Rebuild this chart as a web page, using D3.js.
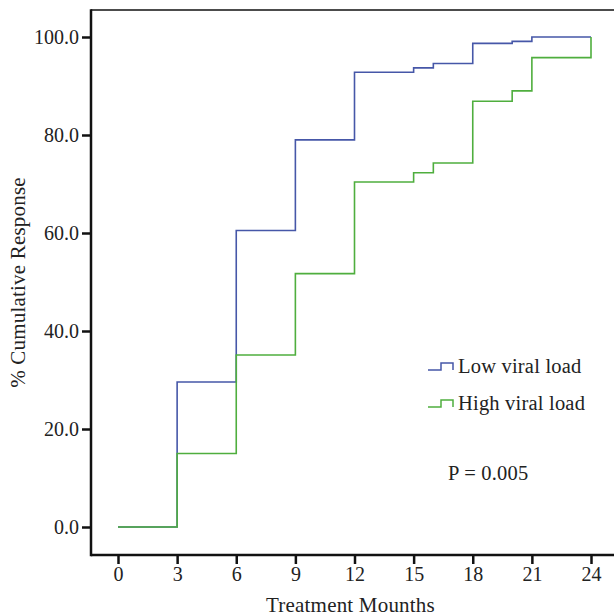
<!DOCTYPE html>
<html>
<head>
<meta charset="utf-8">
<script src="https://cdn.jsdelivr.net/npm/d3@7"></script>
<style>
  body { margin: 0; background: #fff; }
  svg text { font-family: "Liberation Serif", "DejaVu Serif", serif; fill: #222; }
</style>
</head>
<body>
<svg id="chart" width="614" height="616"></svg>
<script>
// months where the curves step
const months = [0, 3, 6, 9, 12, 15, 16, 18, 20, 21, 24]
const lowLoad = [0, 29.6, 60.5, 79.0, 92.8, 93.7, 94.6, 98.7, 99.1, 100, 100]
const highLoad = [0, 15.0, 35.1, 51.7, 70.4, 72.3, 74.3, 86.9, 89.0, 95.8, 100]
const xTicks = [0, 3, 6, 9, 12, 15, 18, 21, 24]
const yTicks = [0, 20, 40, 60, 80, 100]
const seriesNames = ['Low viral load', 'High viral load']

const svg = d3.select('#chart')
const frameLeft = 91, frameTop = 10, frameBottom = 555, frameRight = 614

const x = d3.scaleLinear().domain([0, 24]).range([118, 591])
const y = d3.scaleLinear().domain([0, 100]).range([527, 37])

const blue = '#4657a8', green = '#4fae3e'

// frame: top line, left and bottom axis lines
svg.append('line').attr('x1', frameLeft).attr('x2', frameRight).attr('y1', frameTop).attr('y2', frameTop)
    .attr('stroke', '#111').attr('stroke-width', 1.5)

const yAxis = svg.append('g')
    .attr('transform', `translate(${frameLeft},0)`)
    .call(d3.axisLeft(y).tickValues(yTicks).tickFormat(d3.format('.1f')).tickSize(9).tickPadding(3))
yAxis.select('.domain').remove()

const xAxis = svg.append('g')
    .attr('transform', `translate(0,${frameBottom})`)
    .call(d3.axisBottom(x).tickValues(xTicks).tickSize(9).tickPadding(3))
xAxis.select('.domain').remove()

svg.selectAll('.tick line').attr('stroke', '#111').attr('stroke-width', 2.5)
svg.selectAll('.tick text').style('font-size', '20px').attr('fill', '#222')

svg.append('line').attr('x1', frameLeft).attr('x2', frameLeft).attr('y1', frameTop - 0.75).attr('y2', frameBottom + 1.25)
    .attr('stroke', '#111').attr('stroke-width', 2.5)
svg.append('line').attr('x1', frameLeft).attr('x2', frameRight).attr('y1', frameBottom).attr('y2', frameBottom)
    .attr('stroke', '#111').attr('stroke-width', 2.5)

// step curves
const line = d3.line()
    .x(d => x(d[0]))
    .y(d => y(d[1]))
    .curve(d3.curveStepAfter)

const series = [
  {name: seriesNames[0], values: lowLoad, color: blue},
  {name: seriesNames[1], values: highLoad, color: green}
]

svg.selectAll('.curve')
    .data(series)
    .enter()
    .append('path')
    .attr('class', 'curve')
    .attr('fill', 'none')
    .attr('stroke', d => d.color)
    .attr('stroke-width', 1.6)
    .attr('d', d => line(months.map((m, i) => [m, d.values[i]])))

// legend
const legend = svg.selectAll('.legend')
    .data(series)
    .enter()
    .append('g')
    .attr('class', 'legend')
    .attr('transform', (d, i) => `translate(428,${366 + i * 37})`)

legend.append('path')
    .attr('fill', 'none')
    .attr('stroke', d => d.color)
    .attr('stroke-width', 1.5)
    .attr('d', 'M0,4H13V-3H25V4')

legend.append('text')
    .attr('x', 30)
    .attr('dy', '0.35em')
    .style('font-size', '20.5px')
    .style('letter-spacing', '0.2px')
    .text(d => d.name)

svg.append('text')
    .attr('x', 448)
    .attr('y', 473)
    .attr('dy', '0.35em')
    .style('font-size', '20.5px')
    .style('letter-spacing', '0.2px')
    .text('P = 0.005')

// axis titles
svg.append('text')
    .attr('x', (frameLeft + frameRight) / 2 - 2)
    .attr('y', 605)
    .attr('dy', '0.35em')
    .attr('text-anchor', 'middle')
    .style('font-size', '21px')
    .style('letter-spacing', '0.2px')
    .text('Treatment Mounths')

svg.append('text')
    .attr('transform', `translate(18,${(frameTop + frameBottom) / 2}) rotate(-90)`)
    .attr('dy', '0.35em')
    .attr('text-anchor', 'middle')
    .style('font-size', '21px')
    .style('letter-spacing', '0.2px')
    .text('% Cumulative Response')
</script>
</body>
</html>
